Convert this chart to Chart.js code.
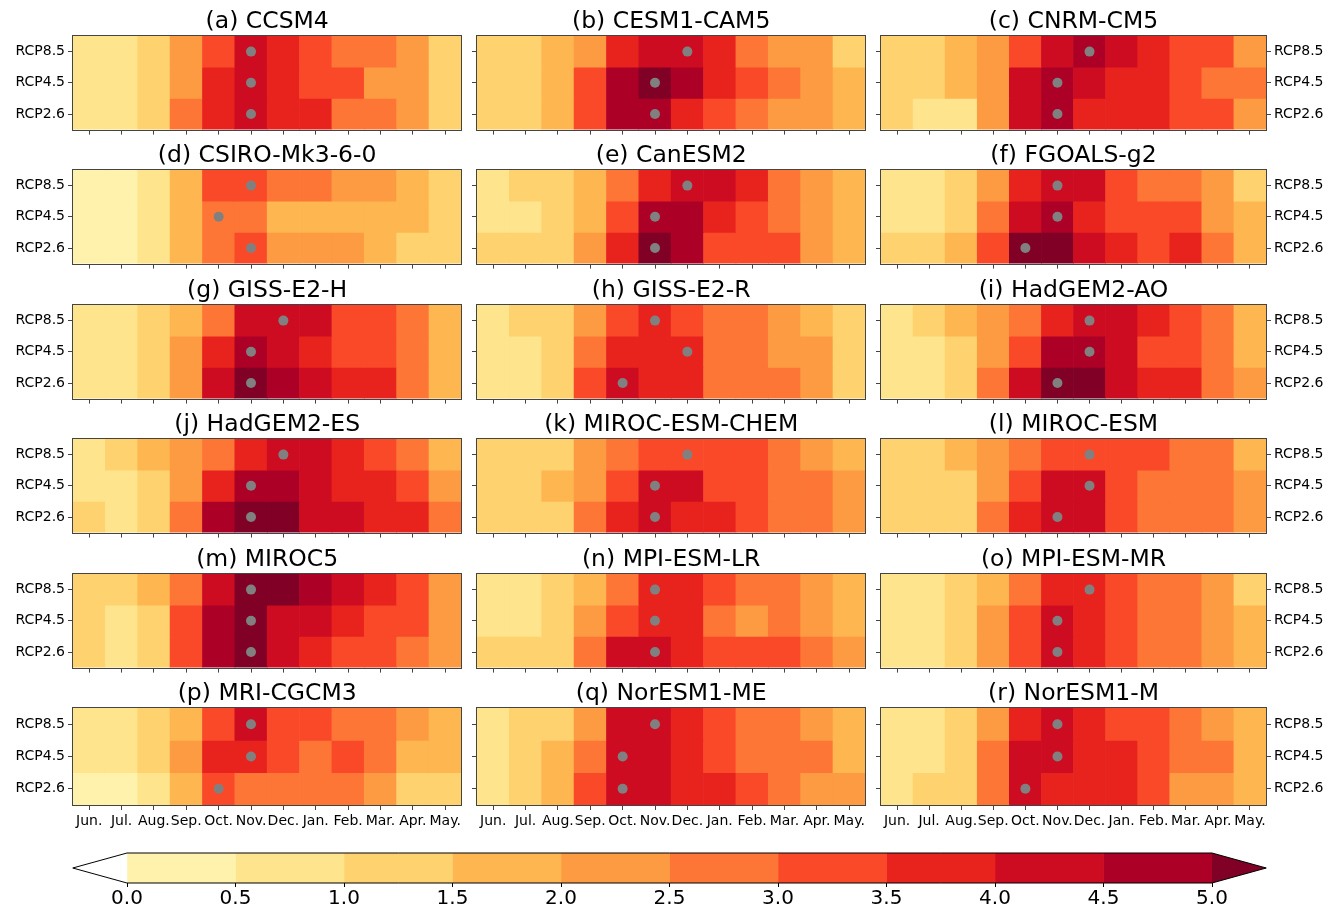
<!DOCTYPE html>
<html>
<head>
<meta charset="utf-8">
<script src="https://cdn.jsdelivr.net/npm/chart.js@4.4.1/dist/chart.umd.min.js"></script>
<style>
  html, body { margin: 0; padding: 0; background: #ffffff; }
  #wrap { position: relative; width: 1342px; height: 912px; overflow: hidden; }
  #wrap canvas { position: absolute; }
</style>
</head>
<body>
<div id="wrap"></div>
<script>
// Months run June through May; rows are the three emission scenarios (top to bottom)
const months = ['Jun.', 'Jul.', 'Aug.', 'Sep.', 'Oct.', 'Nov.', 'Dec.', 'Jan.', 'Feb.', 'Mar.', 'Apr.', 'May.'];
const scenarios = ['RCP8.5', 'RCP4.5', 'RCP2.6'];
const modelTitles = [
  '(a) CCSM4', '(b) CESM1-CAM5', '(c) CNRM-CM5',
  '(d) CSIRO-Mk3-6-0', '(e) CanESM2', '(f) FGOALS-g2',
  '(g) GISS-E2-H', '(h) GISS-E2-R', '(i) HadGEM2-AO',
  '(j) HadGEM2-ES', '(k) MIROC-ESM-CHEM', '(l) MIROC-ESM',
  '(m) MIROC5', '(n) MPI-ESM-LR', '(o) MPI-ESM-MR',
  '(p) MRI-CGCM3', '(q) NorESM1-ME', '(r) NorESM1-M'
];

// Monthly values per model, one row per scenario (RCP8.5, RCP4.5, RCP2.6)
const ccsm4 = [
  [0.75, 0.75, 1.25, 2.25, 3.25, 4.25, 3.75, 3.25, 2.75, 2.75, 2.25, 1.25],
  [0.75, 0.75, 1.25, 2.25, 3.75, 4.25, 3.75, 3.25, 3.25, 2.25, 2.25, 1.25],
  [0.75, 0.75, 1.25, 2.75, 3.75, 4.25, 3.75, 3.75, 2.75, 2.75, 2.25, 1.25]
];
const cesm1Cam5 = [
  [1.25, 1.25, 1.75, 2.25, 3.75, 4.25, 4.25, 3.75, 2.75, 2.25, 2.25, 1.25],
  [1.25, 1.25, 1.75, 3.25, 4.75, 5.25, 4.75, 3.75, 3.25, 2.75, 2.25, 1.75],
  [1.25, 1.25, 1.75, 3.25, 4.75, 4.75, 3.75, 3.25, 2.75, 2.25, 2.25, 1.75]
];
const cnrmCm5 = [
  [1.25, 1.25, 1.75, 2.25, 3.25, 4.25, 4.75, 4.25, 3.75, 3.25, 3.25, 2.25],
  [1.25, 1.25, 1.75, 2.25, 4.25, 4.75, 4.25, 3.75, 3.75, 3.25, 2.75, 2.75],
  [1.25, 0.75, 0.75, 2.25, 4.25, 4.75, 3.75, 3.75, 3.75, 3.25, 3.25, 2.25]
];
const csiroMk360 = [
  [0.25, 0.25, 0.75, 1.75, 3.25, 3.25, 2.75, 2.75, 2.25, 2.25, 1.75, 1.25],
  [0.25, 0.25, 0.75, 1.75, 2.75, 2.75, 1.75, 1.75, 1.75, 1.75, 1.75, 1.25],
  [0.25, 0.25, 0.75, 1.75, 2.75, 3.25, 2.25, 2.25, 2.25, 1.75, 1.25, 1.25]
];
const canEsm2 = [
  [0.75, 1.25, 1.25, 1.75, 2.75, 3.75, 4.25, 4.25, 3.75, 2.75, 2.25, 1.75],
  [0.75, 0.75, 1.25, 1.75, 3.25, 4.75, 4.75, 3.75, 3.25, 2.75, 2.25, 1.75],
  [1.25, 1.25, 1.25, 2.25, 3.75, 5.25, 4.75, 3.25, 3.25, 3.25, 2.25, 1.75]
];
const fgoalsG2 = [
  [0.75, 0.75, 1.25, 2.25, 3.75, 4.25, 4.25, 3.25, 2.75, 2.75, 2.25, 1.25],
  [0.75, 0.75, 1.25, 2.75, 4.25, 4.75, 3.75, 3.25, 3.25, 3.25, 2.25, 1.75],
  [1.25, 1.25, 1.75, 3.25, 5.25, 5.25, 4.25, 3.75, 3.25, 3.75, 2.75, 1.75]
];
const gissE2H = [
  [0.75, 0.75, 1.25, 1.75, 2.75, 4.25, 4.25, 4.25, 3.25, 3.25, 2.75, 1.75],
  [0.75, 0.75, 1.25, 2.25, 3.75, 4.75, 4.25, 3.75, 3.25, 3.25, 2.75, 1.75],
  [0.75, 0.75, 1.25, 2.25, 4.25, 5.25, 4.75, 4.25, 3.75, 3.75, 2.75, 1.75]
];
const gissE2R = [
  [0.75, 1.25, 1.25, 2.25, 3.25, 3.75, 3.25, 2.75, 2.75, 2.25, 1.75, 1.25],
  [0.75, 0.75, 1.25, 2.75, 3.75, 3.75, 3.75, 2.75, 2.75, 2.25, 2.25, 1.25],
  [0.75, 0.75, 1.25, 3.25, 4.25, 3.75, 3.75, 2.75, 2.75, 2.75, 2.25, 1.25]
];
const hadGem2Ao = [
  [0.75, 1.25, 1.75, 2.25, 2.75, 3.75, 4.25, 4.25, 3.75, 3.25, 2.75, 1.75],
  [0.75, 0.75, 1.25, 2.25, 3.25, 4.75, 4.75, 4.25, 3.25, 3.25, 2.75, 1.75],
  [0.75, 0.75, 1.25, 2.75, 4.25, 5.25, 5.25, 4.25, 3.75, 3.75, 2.75, 2.25]
];
const hadGem2Es = [
  [0.75, 1.25, 1.75, 2.25, 2.75, 3.75, 4.25, 4.25, 3.75, 3.25, 2.75, 1.75],
  [0.75, 0.75, 1.25, 2.25, 3.75, 4.75, 4.75, 4.25, 3.75, 3.75, 3.25, 2.25],
  [1.25, 0.75, 1.25, 2.75, 4.75, 5.25, 5.25, 4.25, 4.25, 3.75, 3.75, 2.75]
];
const mirocEsmChem = [
  [1.25, 1.25, 1.25, 2.25, 2.75, 3.25, 3.25, 3.25, 3.25, 2.75, 2.25, 1.75],
  [1.25, 1.25, 1.75, 2.25, 3.25, 4.25, 4.25, 3.25, 3.25, 2.75, 2.75, 2.25],
  [1.25, 1.25, 1.25, 2.75, 3.75, 4.25, 3.75, 3.75, 3.25, 2.75, 2.75, 2.25]
];
const mirocEsm = [
  [1.25, 1.25, 1.75, 2.25, 2.75, 3.25, 3.25, 3.25, 3.25, 2.75, 2.75, 1.75],
  [1.25, 1.25, 1.25, 2.25, 3.25, 4.25, 4.25, 3.25, 2.75, 2.75, 2.75, 2.25],
  [1.25, 1.25, 1.25, 2.75, 3.75, 4.25, 4.25, 3.25, 2.75, 2.75, 2.75, 2.25]
];
const miroc5 = [
  [1.25, 1.25, 1.75, 2.75, 4.25, 5.25, 5.25, 4.75, 4.25, 3.75, 3.25, 2.25],
  [1.25, 0.75, 1.25, 3.25, 4.75, 5.25, 4.25, 4.25, 3.75, 3.25, 3.25, 2.25],
  [1.25, 0.75, 1.25, 3.25, 4.75, 5.25, 4.25, 3.75, 3.25, 3.25, 2.75, 2.25]
];
const mpiEsmLr = [
  [0.75, 0.75, 1.25, 1.75, 2.75, 3.75, 3.75, 3.25, 2.75, 2.75, 2.25, 1.75],
  [0.75, 0.75, 1.25, 2.25, 3.25, 3.75, 3.75, 2.75, 2.25, 2.75, 2.25, 1.75],
  [1.25, 1.25, 1.25, 2.75, 4.25, 4.25, 3.75, 3.25, 3.25, 3.25, 2.75, 2.25]
];
const mpiEsmMr = [
  [0.75, 0.75, 1.25, 1.75, 2.75, 3.75, 3.75, 3.25, 2.75, 2.75, 2.25, 1.25],
  [0.75, 0.75, 1.25, 2.25, 3.25, 4.25, 3.75, 3.25, 2.75, 2.75, 2.25, 1.75],
  [0.75, 0.75, 1.25, 2.25, 3.25, 4.25, 3.75, 3.25, 2.75, 2.75, 2.25, 1.75]
];
const mriCgcm3 = [
  [0.75, 0.75, 1.25, 1.75, 3.25, 4.25, 3.25, 3.25, 2.75, 2.75, 2.25, 1.75],
  [0.75, 0.75, 1.25, 2.25, 3.75, 3.75, 3.25, 2.75, 3.25, 2.75, 1.75, 1.75],
  [0.25, 0.25, 0.75, 1.75, 3.25, 2.75, 2.75, 2.75, 2.75, 2.25, 1.25, 1.25]
];
const norEsm1Me = [
  [0.75, 1.25, 1.25, 2.25, 4.25, 4.25, 3.75, 3.25, 2.75, 2.75, 2.25, 1.75],
  [0.75, 1.25, 1.75, 2.75, 4.25, 4.25, 3.75, 3.25, 2.75, 2.75, 2.75, 1.75],
  [0.75, 1.25, 1.75, 3.25, 4.25, 4.25, 3.75, 3.75, 3.25, 2.75, 2.25, 2.25]
];
const norEsm1M = [
  [0.75, 0.75, 1.25, 2.25, 3.75, 4.25, 3.75, 3.25, 3.25, 2.75, 2.25, 1.75],
  [0.75, 0.75, 1.25, 2.75, 4.25, 4.25, 3.75, 3.75, 3.25, 2.75, 2.75, 1.75],
  [0.75, 1.25, 1.25, 2.75, 4.25, 3.75, 3.75, 3.75, 3.25, 2.25, 2.25, 1.75]
];

// Month of the seasonal peak for each scenario (RCP8.5, RCP4.5, RCP2.6)
const peakMonths = [
  ['Nov.', 'Nov.', 'Nov.'], ['Dec.', 'Nov.', 'Nov.'], ['Dec.', 'Nov.', 'Nov.'],
  ['Nov.', 'Oct.', 'Nov.'], ['Dec.', 'Nov.', 'Nov.'], ['Nov.', 'Nov.', 'Oct.'],
  ['Dec.', 'Nov.', 'Nov.'], ['Nov.', 'Dec.', 'Oct.'], ['Dec.', 'Dec.', 'Nov.'],
  ['Dec.', 'Nov.', 'Nov.'], ['Dec.', 'Nov.', 'Nov.'], ['Dec.', 'Dec.', 'Nov.'],
  ['Nov.', 'Nov.', 'Nov.'], ['Nov.', 'Nov.', 'Nov.'], ['Dec.', 'Nov.', 'Nov.'],
  ['Nov.', 'Nov.', 'Oct.'], ['Nov.', 'Oct.', 'Oct.'], ['Nov.', 'Nov.', 'Oct.']
];

const modelValues = [
  ccsm4, cesm1Cam5, cnrmCm5, csiroMk360, canEsm2, fgoalsG2,
  gissE2H, gissE2R, hadGem2Ao, hadGem2Es, mirocEsmChem, mirocEsm,
  miroc5, mpiEsmLr, mpiEsmMr, mriCgcm3, norEsm1Me, norEsm1M
];

// Discrete colour levels (YlOrRd), with under/over colours for the extensions
const levelBounds = [0.0, 0.5, 1.0, 1.5, 2.0, 2.5, 3.0, 3.5, 4.0, 4.5, 5.0];
const levelColors = ['#fff2ac', '#fee48d', '#fed26e', '#feb650', '#fd9b42',
                     '#fd7636', '#fa4929', '#e8231e', '#ce0c21', '#ac0026'];
const underColor = '#ffffff';
const overColor = '#800026';

function levelColor(v) {
  if (v < levelBounds[0]) return underColor;
  for (let i = 0; i < levelColors.length; i++) {
    if (v < levelBounds[i + 1]) return levelColors[i];
  }
  return overColor;
}

Chart.defaults.font.family = "'DejaVu Sans', sans-serif";
Chart.defaults.color = '#000';

const wrap = document.getElementById('wrap');
function addCanvas(left, top, w, h) {
  const c = document.createElement('canvas');
  c.width = w; c.height = h;
  c.style.left = left + 'px'; c.style.top = top + 'px';
  c.style.width = w + 'px'; c.style.height = h + 'px';
  wrap.appendChild(c);
  return c;
}

// Thin frame round each heatmap
const framePlugin = {
  id: 'frame',
  afterDatasetsDraw(chart) {
    const a = chart.chartArea, ctx = chart.ctx;
    ctx.save();
    ctx.strokeStyle = '#444';
    ctx.lineWidth = 1;
    ctx.strokeRect(Math.round(a.left) - 0.5, Math.round(a.top) - 0.5,
                   Math.round(a.right - a.left) + 1, Math.round(a.bottom - a.top) + 1);
    ctx.restore();
  }
};

const rowCenters = scenarios.map((_, i) => i + 0.5);
const plotW = 385, plotH = 97;
const colLeft = [73, 477, 881];
const rowTop = [36, 170, 305, 439, 574, 708];
const titleBlock = 26;

function yAxis(position, width, showLabels) {
  return {
    type: 'linear', position, min: 0, max: scenarios.length,
    afterBuildTicks: s => { s.ticks = rowCenters.map(v => ({ value: v })); },
    afterFit: s => { s.width = width; },
    grid: { drawOnChartArea: false, drawTicks: true, tickLength: 5, color: '#444' },
    border: { display: false },
    ticks: {
      color: showLabels ? '#000' : 'rgba(0,0,0,0)',
      font: { size: 14 }, padding: 3,
      callback: v => scenarios[Math.round(scenarios.length - 0.5 - v)]
    }
  };
}

modelValues.forEach((values, p) => {
  const col = p % 3, row = Math.floor(p / 3);
  const lastRow = row === rowTop.length - 1;
  const L = col === 0 ? 73 : 12;
  const R = col === 2 ? 76 : 6;
  const B = lastRow ? 30 : 8;
  const canvas = addCanvas(colLeft[col] - L, rowTop[row] - titleBlock,
                           plotW + L + R, plotH + titleBlock + B);

  const datasets = values.map((rowVals, s) => {
    const base = scenarios.length - 1 - s;
    return {
      type: 'bar',
      data: rowVals.map(() => [base, base + 1]),
      backgroundColor: rowVals.map(levelColor),
      borderWidth: 0,
      barPercentage: 1,
      categoryPercentage: 1,
      grouped: false,
      order: 1
    };
  });
  datasets.push({
    type: 'line',
    data: peakMonths[p].map((m, s) => ({ x: m, y: scenarios.length - 0.5 - s })),
    showLine: false,
    pointRadius: 5,
    pointHoverRadius: 5,
    pointBackgroundColor: '#808080',
    pointBorderWidth: 0,
    order: 0
  });

  const scales = {
    x: {
      type: 'category', labels: months, offset: true,
      afterFit: s => { s.height = B; },
      grid: { offset: false, drawOnChartArea: false, drawTicks: true, tickLength: 5, color: '#444' },
      border: { display: false },
      ticks: {
        color: lastRow ? '#000' : 'rgba(0,0,0,0)',
        font: { size: 14 }, padding: 3, maxRotation: 0, autoSkip: false
      }
    },
    y: yAxis('left', L, col === 0)
  };
  if (col === 2) scales.y2 = yAxis('right', R, true);

  new Chart(canvas, {
    type: 'bar',
    data: { labels: months, datasets },
    options: {
      responsive: false, animation: false, devicePixelRatio: 1,
      layout: { padding: 0, autoPadding: false },
      scales,
      plugins: {
        legend: { display: false },
        tooltip: { enabled: false },
        title: {
          display: true, text: modelTitles[p], fullSize: false,
          color: '#000',
          font: { size: 23.5, weight: 'normal', lineHeight: '24px' },
          padding: { top: 0, bottom: 2 }
        }
      }
    },
    plugins: [framePlugin]
  });
});

// Colour bar with triangular extensions at both ends
const extendPlugin = {
  id: 'extendEnds',
  afterDatasetsDraw(chart) {
    const a = chart.chartArea, ctx = chart.ctx;
    const ext = (a.right - a.left) * 0.05;
    const mid = (a.top + a.bottom) / 2;
    ctx.save();
    ctx.fillStyle = underColor;
    ctx.beginPath();
    ctx.moveTo(a.left, a.top); ctx.lineTo(a.left - ext, mid); ctx.lineTo(a.left, a.bottom);
    ctx.closePath(); ctx.fill();
    ctx.fillStyle = overColor;
    ctx.beginPath();
    ctx.moveTo(a.right, a.top); ctx.lineTo(a.right + ext, mid); ctx.lineTo(a.right, a.bottom);
    ctx.closePath(); ctx.fill();
    ctx.strokeStyle = '#000';
    ctx.lineWidth = 1;
    ctx.beginPath();
    ctx.moveTo(a.left, a.top); ctx.lineTo(a.right, a.top);
    ctx.lineTo(a.right + ext, mid); ctx.lineTo(a.right, a.bottom);
    ctx.lineTo(a.left, a.bottom); ctx.lineTo(a.left - ext, mid);
    ctx.closePath(); ctx.stroke();
    ctx.restore();
  }
};

const cbCanvas = addCanvas(0, 845, 1342, 70);
new Chart(cbCanvas, {
  type: 'bar',
  data: {
    labels: [''],
    datasets: levelColors.map((c, i) => ({
      data: [[levelBounds[i], levelBounds[i + 1]]],
      backgroundColor: c, borderWidth: 0,
      barPercentage: 1, categoryPercentage: 1, grouped: false
    }))
  },
  options: {
    indexAxis: 'y', responsive: false, animation: false, devicePixelRatio: 1,
    layout: { padding: { left: 127, right: 130, top: 8, bottom: 0 }, autoPadding: false },
    plugins: { legend: { display: false }, tooltip: { enabled: false }, title: { display: false } },
    scales: {
      x: {
        type: 'linear', min: levelBounds[0], max: levelBounds[levelBounds.length - 1],
        afterBuildTicks: s => { s.ticks = levelBounds.map(v => ({ value: v })); },
        afterFit: s => { s.height = 32; },
        ticks: { callback: v => v.toFixed(1), font: { size: 20, lineHeight: 1 }, color: '#000',
                 padding: 2, maxRotation: 0, autoSkip: false },
        grid: { drawOnChartArea: false, drawTicks: true, tickLength: 4, color: '#000' },
        border: { display: false }
      },
      y: { display: false }
    }
  },
  plugins: [extendPlugin]
});
</script>
</body>
</html>
